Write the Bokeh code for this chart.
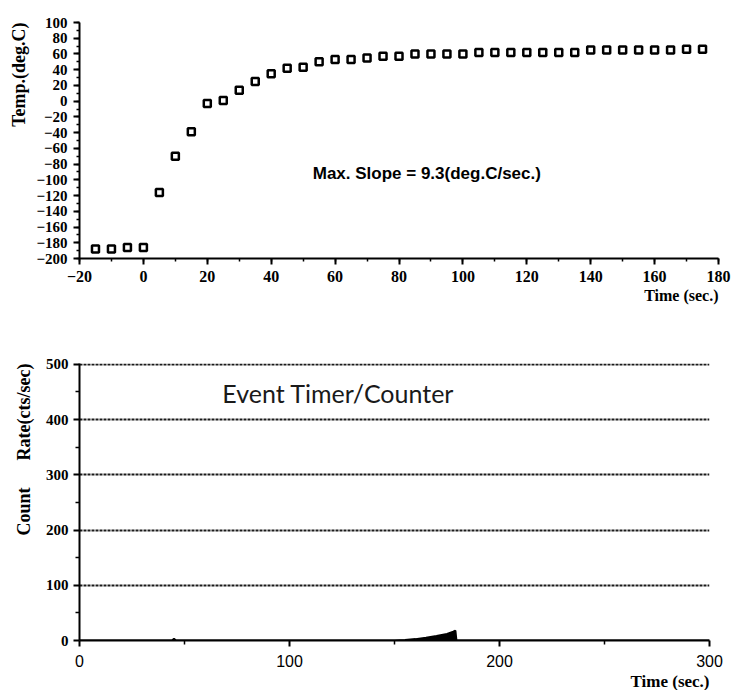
from bokeh.plotting import figure
from bokeh.models import Label, Title, FixedTicker, ColumnDataSource
from bokeh.embed import file_html
from bokeh.resources import INLINE

# ---- data: temperature ----
time_s = [-15, -10, -5, 0, 5, 10, 15, 20, 25, 30, 35, 40, 45, 50, 55, 60, 65, 70,
          75, 80, 85, 90, 95, 100, 105, 110, 115, 120, 125, 130, 135, 140, 145,
          150, 155, 160, 165, 170, 175]
temp_c = [-188, -188, -186, -186, -116, -70, -39, -3, 1, 14, 25, 35, 42, 43, 50,
          53, 53, 55, 57, 57, 60, 60, 60, 60, 62, 62, 62, 62, 62, 62, 62, 65, 65,
          65, 65, 65, 65, 66, 66]
temp_yticks = list(range(-200, 101, 20))
temp_xticks = list(range(-20, 181, 20))
slope_text = "Max. Slope = 9.3(deg.C/sec.)"

# ---- data: count rate ----
rate_t = [0, 44, 45, 46, 150, 155, 160, 165, 170, 175, 178, 179, 179.5, 300]
rate_v = [0, 0, 3, 0, 0, 1, 2.5, 5, 8, 12, 16, 18, 0, 0]
rate_yticks = [0, 100, 200, 300, 400, 500]
rate_xticks = [0, 100, 200, 300]
counter_text = "Event Timer/Counter"

SERIF = "Liberation Serif"
SANS = "Liberation Sans"
NB = "\u00a0"

def style_axes(p):
    for ax in (p.xaxis[0], p.yaxis[0]):
        ax.axis_line_width = 2
        ax.axis_line_color = "black"
        ax.major_tick_line_width = 2
        ax.minor_tick_line_width = 1.5
        ax.major_tick_line_color = "black"
        ax.minor_tick_line_color = "black"
        ax.major_tick_out = 6
        ax.major_tick_in = 0
        ax.major_label_text_color = "black"

# ---------------- top figure ----------------
p1 = figure(width=733, height=305, x_range=(-20, 180), y_range=(-200, 100),
            output_backend="svg", toolbar_location=None,
            min_border_left=79, min_border_right=15, min_border_top=22, min_border_bottom=47)
p1.outline_line_color = None
p1.grid.visible = False
style_axes(p1)
p1.xaxis.ticker = FixedTicker(ticks=temp_xticks, minor_ticks=list(range(-20, 181, 10)))
p1.yaxis.ticker = FixedTicker(ticks=temp_yticks, minor_ticks=list(range(-200, 101, 10)))
for ax in (p1.xaxis[0], p1.yaxis[0]):
    ax.major_label_text_font = SERIF
    ax.major_label_text_font_style = "bold"
    ax.minor_tick_out = 3
    ax.minor_tick_in = 0
p1.xaxis.major_label_text_font_size = "16px"
p1.yaxis.major_label_text_font_size = "15px"
p1.xaxis.major_label_standoff = 6
p1.yaxis.major_label_standoff = 6

p1.scatter(time_s, temp_c, marker="square", size=7, line_width=2.5,
           line_color="black", fill_color="white")
p1.add_layout(Label(x=53, y=-92, text=slope_text, text_font=SANS, text_font_size="17px",
                    text_font_style="bold", text_color="black",
                    text_baseline="middle", text_align="left"))
p1.add_layout(Title(text="Time (sec.)", align="right", text_font=SERIF, text_color="black",
                    text_font_size="16px", text_font_style="bold", standoff=0), "below")
p1.add_layout(Title(text="Temp.(deg.C)", align="right", text_font=SERIF, text_color="black",
                    text_font_size="18px", text_font_style="bold", standoff=10), "left")

# ---------------- bottom figure ----------------
p2 = figure(width=733, height=385, x_range=(0, 300), y_range=(0, 501.5),
            output_backend="svg", toolbar_location=None,
            min_border_left=79, min_border_right=24, min_border_top=58, min_border_bottom=47)
p2.outline_line_color = None
p2.xgrid.visible = False
p2.ygrid.grid_line_color = "#1a1a1a"
p2.ygrid.grid_line_width = 2
p2.ygrid.grid_line_dash = "3 1"
style_axes(p2)
p2.xaxis.ticker = FixedTicker(ticks=rate_xticks, minor_ticks=[50, 150, 250])
p2.yaxis.ticker = FixedTicker(ticks=rate_yticks, minor_ticks=[50, 150, 250, 350, 450])
p2.xaxis.major_label_text_font = SANS
p2.xaxis.major_label_text_font_size = "16px"
p2.yaxis.major_label_text_font = SERIF
p2.yaxis.major_label_text_font_size = "15px"
p2.yaxis.major_label_text_font_style = "bold"
for ax in (p2.xaxis[0], p2.yaxis[0]):
    ax.minor_tick_out = 4
    ax.minor_tick_in = 0
p2.xaxis.major_label_standoff = 8
p2.yaxis.major_label_standoff = 5

src = ColumnDataSource(dict(t=rate_t, v=rate_v, z=[0] * len(rate_t)))
p2.varea(x="t", y1="z", y2="v", source=src, fill_color="black")
p2.line(x="t", y="v", source=src, line_color="black", line_width=2)
p2.add_layout(Label(x=68, y=448, text=counter_text, text_font="Lato", text_color="#1a1a1a",
                    text_font_size="25px", text_baseline="middle", text_align="left"))
p2.add_layout(Title(text="Time (sec.)", align="right", text_font=SERIF, text_color="black",
                    text_font_size="17px", text_font_style="bold", standoff=0), "below")
p2.add_layout(Title(text="Count" + NB * 6 + "Rate(cts/sec)", align="right", text_font=SERIF,
                    text_color="black", text_font_size="18px", text_font_style="bold",
                    standoff=18), "left")

open("out.html", "w").write(file_html([p1, p2], INLINE))
